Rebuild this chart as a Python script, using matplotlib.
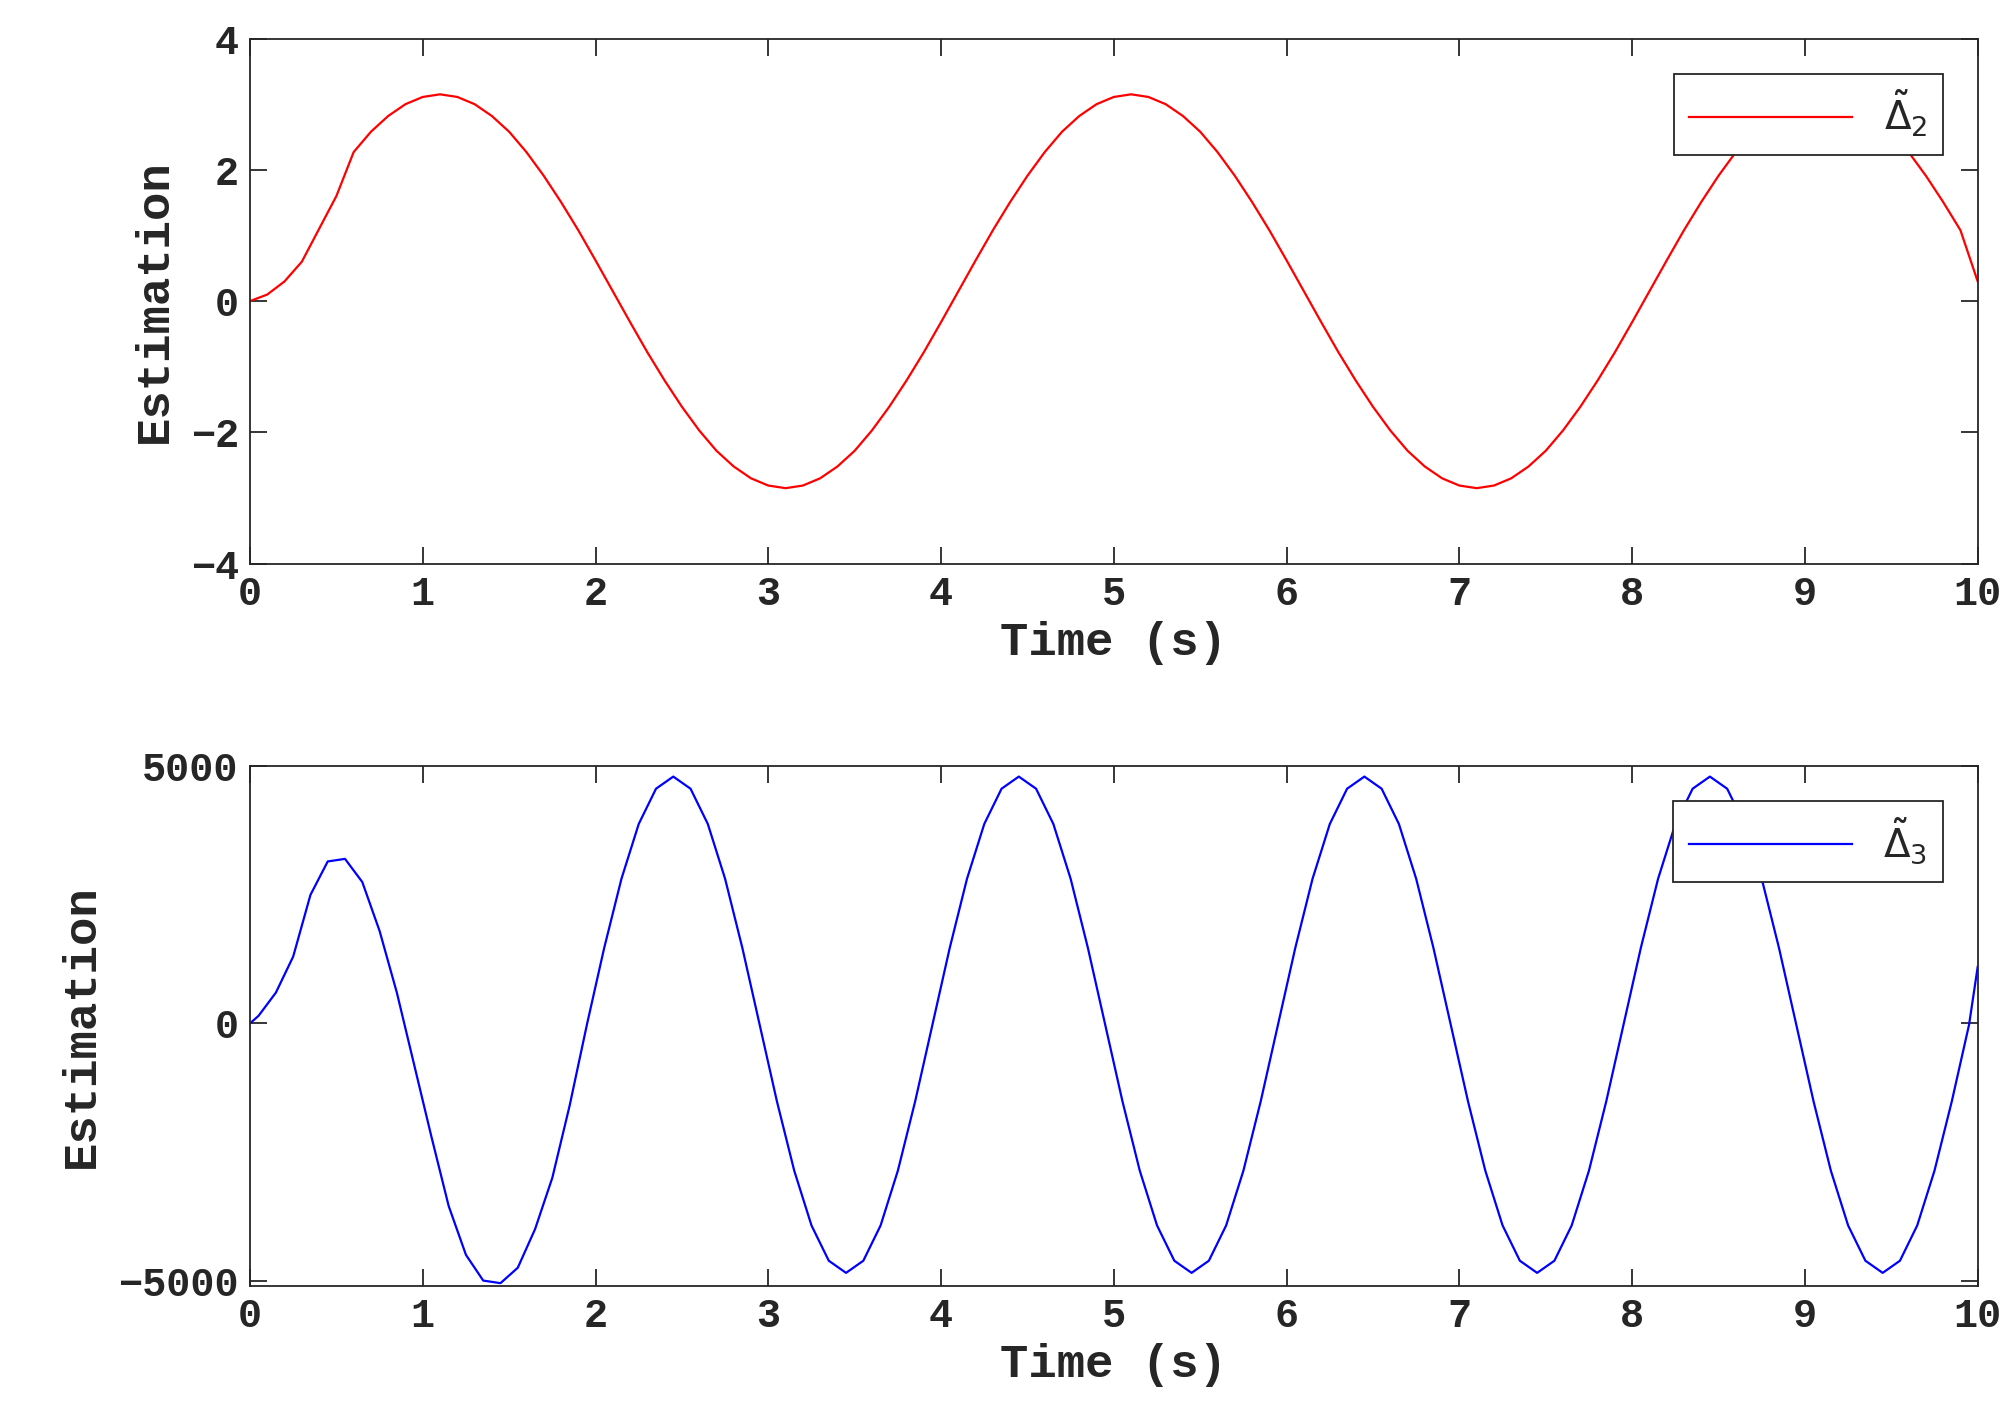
import numpy as np
import matplotlib
matplotlib.use("Agg")
import matplotlib.pyplot as plt

t_top = [round(0.1 * i, 2) for i in range(101)]
cycle2 = [2.27, 2.58, 2.82, 3.00, 3.11, 3.15, 3.11, 3.00, 2.82, 2.58, 2.27, 1.91, 1.51, 1.08, 0.62,
          0.15, -0.32, -0.78, -1.21, -1.61, -1.97, -2.28, -2.52, -2.70, -2.81, -2.85, -2.81, -2.70,
          -2.52, -2.28, -1.97, -1.61, -1.21, -0.78, -0.32, 0.15, 0.62, 1.08, 1.51, 1.91]
delta2 = [0.0, 0.1, 0.3, 0.6, 1.1, 1.6] + cycle2 * 2 + cycle2[:14] + [0.3]

t_bot = [0.0] + [round(0.05 + 0.1 * k, 2) for k in range(100)] + [10.0]
cycle3 = [-25, 1466, 2812, 3878, 4564, 4800, 4564, 3878, 2812, 1466,
          -25, -1516, -2862, -3928, -4614, -4850, -4614, -3928, -2862, -1516]
delta3 = ([0, 150, 600, 1300, 2500, 3150, 3200, 2750, 1800, 600,
           -800, -2200, -3550, -4500, -5000, -5050, -4750, -4000, -3000, -1600]
          + cycle3 * 4 + [-25, 1100])

TXT = "#262626"
plt.rcParams["text.color"] = TXT
plt.rcParams["axes.labelcolor"] = TXT
plt.rcParams["xtick.color"] = TXT
plt.rcParams["ytick.color"] = TXT

fig = plt.figure(figsize=(20.16, 14.27), dpi=100)
font = dict(family="Liberation Mono", weight="bold")

def style(ax):
    ax.tick_params(direction="in", length=12, width=1.3, labelsize=29, top=True, right=True,
                   labeltop=False, labelright=False, pad=8)
    for lab in ax.get_xticklabels() + ax.get_yticklabels():
        lab.set_fontfamily("Liberation Mono"); lab.set_fontweight("bold")
    for s in ax.spines.values():
        s.set_linewidth1 = None
        s.set_linewidth(1.3); s.set_color(TXT)
    ax.set_xlabel("Time (s)", fontsize=34, labelpad=6, **font)
    ax.set_ylabel("Estimation", fontsize=34, labelpad=10, **font)

def legend(ax):
    leg = ax.legend(loc="upper right", fontsize=28, fancybox=False, edgecolor=TXT,
                    handlelength=4.2, borderaxespad=0.9, framealpha=1)
    leg.get_frame().set_linewidth(1.3)

ax1 = fig.add_axes([0.124, 0.605, 0.857, 0.368])
ax1.plot(t_top, delta2, color="red", lw=1.6, label=r"$\tilde{\Delta}_2$")
ax1.set_xlim(0, 10); ax1.set_ylim(-4, 4)
ax1.set_xticks(range(11)); ax1.set_yticks([-4, -2, 0, 2, 4])
style(ax1); legend(ax1)

ax2 = fig.add_axes([0.124, 0.099, 0.857, 0.364])
ax2.plot(t_bot, delta3, color="blue", lw=1.6, label=r"$\tilde{\Delta}_3$")
ax2.set_xlim(0, 10); ax2.set_ylim(-5100, 5000)
ax2.set_xticks(range(11)); ax2.set_yticks([-5000, 0, 5000])
style(ax2); legend(ax2)

fig.savefig("out.png", dpi=100)
